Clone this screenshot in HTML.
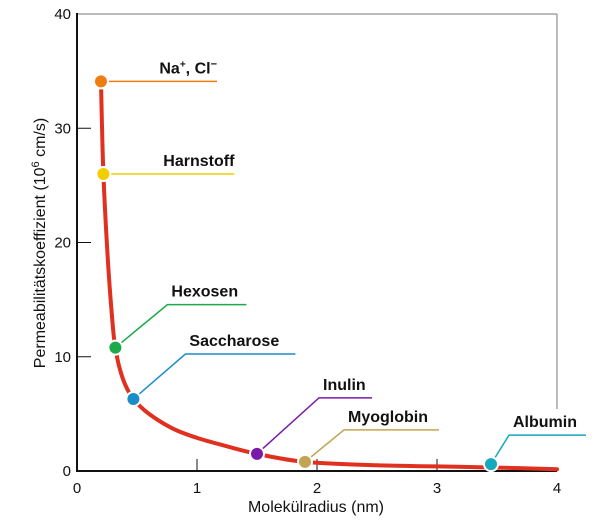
<!DOCTYPE html>
<html><head><meta charset="utf-8"><style>
body{margin:0;background:#fff;}
svg{display:block;font-family:"Liberation Sans",Arial,sans-serif;}
.lab{font-weight:bold;font-size:16px;fill:#111;}
.tk{font-size:15px;fill:#111;}
</style></head><body>
<svg width="605" height="527" viewBox="0 0 605 527">
<g id="frame"></g>
<g id="curve"></g>
<g id="pts"></g>
</svg>
<script>
const curveX=[0.2,0.22,0.26,0.3,0.32,0.35,0.4,0.47,0.6,0.8,1.0,1.2,1.5,1.9,2.5,3.0,3.5,4.0];
const curveY=[34,26,18,12.5,10.8,9.2,7.6,6.3,5.0,3.7,2.9,2.3,1.5,0.8,0.5,0.4,0.3,0.15];
const names=["Na+, Cl−","Harnstoff","Hexosen","Saccharose","Inulin","Myoglobin","Albumin"];
const ptX=[0.2,0.22,0.32,0.47,1.5,1.9,3.45];
const ptY=[34.1,26,10.8,6.3,1.5,0.8,0.6];
const colors=["#ee7d11","#f2cd00","#1aaa4a","#1a8cc8","#7a1aa8","#c2a453","#16a8bb"];
const xTicks=[0,1,2,3,4];
const yTicks=[0,10,20,30,40];
const NS="http://www.w3.org/2000/svg";
const X=v=>77+v*(557-77)/4, Y=v=>471-v*(471-14)/40;
function mk(tag,attrs,parent,txt){const e=document.createElementNS(NS,tag);for(const k in attrs)e.setAttribute(k,attrs[k]);if(txt!=null)e.textContent=txt;parent.appendChild(e);return e;}
const fr=document.getElementById('frame');
let e=mk('line',{x1:77,y1:14,x2:557,y2:14,stroke:'#777','stroke-width':1},fr);

e=mk('line',{x1:557,y1:14,x2:557,y2:409,stroke:'#777','stroke-width':1},fr);

e=mk('line',{x1:77,y1:13,x2:77,y2:472,stroke:'#111','stroke-width':2},fr);

e=mk('line',{x1:76,y1:471,x2:557,y2:471,stroke:'#111','stroke-width':2},fr);

xTicks.forEach(t=>{
 if(t>0&&t<4){e=mk('line',{x1:X(t),y1:471,x2:X(t),y2:459,stroke:'#111','stroke-width':1},fr);
 }
 e=mk('text',{x:X(t),y:493,'text-anchor':'middle',class:'tk'},fr,String(t));
 
});
yTicks.forEach(t=>{
 if(t>0&&t<40){e=mk('line',{x1:77,y1:Y(t),x2:91,y2:Y(t),stroke:'#111','stroke-width':1},fr);
 }
 e=mk('text',{x:71,y:Y(t)+5,'text-anchor':'end',class:'tk'},fr,String(t));
 
});
e=mk('text',{x:316,y:512,'text-anchor':'middle','font-size':16,fill:'#111'},fr,'Molekülradius (nm)');

e=mk('text',{transform:'translate(45,243) rotate(-90)','text-anchor':'middle','font-size':16,fill:'#111'},fr);

e.innerHTML='Permeabilitätskoeffizient (10<tspan dy="-6" font-size="11">6</tspan><tspan dy="6"> cm/s)</tspan>';
const P=curveX.map((x,i)=>[X(x),Y(curveY[i])]);
let d='M'+P[0][0].toFixed(1)+','+P[0][1].toFixed(1);
for(let i=0;i<P.length-1;i++){
 const p0=P[Math.max(0,i-1)],p1=P[i],p2=P[i+1],p3=P[Math.min(P.length-1,i+2)];
 const c1=[p1[0]+(p2[0]-p0[0])/6,p1[1]+(p2[1]-p0[1])/6];
 const c2=[p2[0]-(p3[0]-p1[0])/6,p2[1]-(p3[1]-p1[1])/6];
 d+=` C${c1[0].toFixed(1)},${c1[1].toFixed(1)} ${c2[0].toFixed(1)},${c2[1].toFixed(1)} ${p2[0].toFixed(1)},${p2[1].toFixed(1)}`;
}
e=mk('path',{d:d,fill:'none',stroke:'#e03020','stroke-width':4,'stroke-linejoin':'round','stroke-linecap':'round'},document.getElementById('curve'));

const lblOff=[[0,0,116],[0,0,131],[52,-43,79],[52,-45,110],[62,-56,53],[39,-32,95],[18,-29,77]];
const pts=document.getElementById('pts');
names.forEach((n,i)=>{
 const px=X(ptX[i]),py=Y(ptY[i]);const o=lblOff[i];
 const ex=px+o[0],ey=py+o[1],hx=ex+o[2];
 e=mk('polyline',{points:`${px},${py} ${ex},${ey} ${hx},${ey}`,fill:'none',stroke:colors[i],'stroke-width':1.5},pts);
 
 e=mk('circle',{cx:px,cy:py,r:7,fill:colors[i],stroke:'#fff','stroke-width':2},pts);
 
 let t;
 if(i<2){t=mk('text',{x:hx,y:ey-8,'text-anchor':'end',class:'lab'},pts);}
 else{t=mk('text',{x:ex+4,y:ey-8,class:'lab'},pts);}
 
 if(i==0)t.innerHTML='Na<tspan dy="-6" font-size="10">+</tspan><tspan dy="6">, Cl</tspan><tspan dy="-6" font-size="11">−</tspan>';
 else t.textContent=n;
});
</script>
</body></html>
